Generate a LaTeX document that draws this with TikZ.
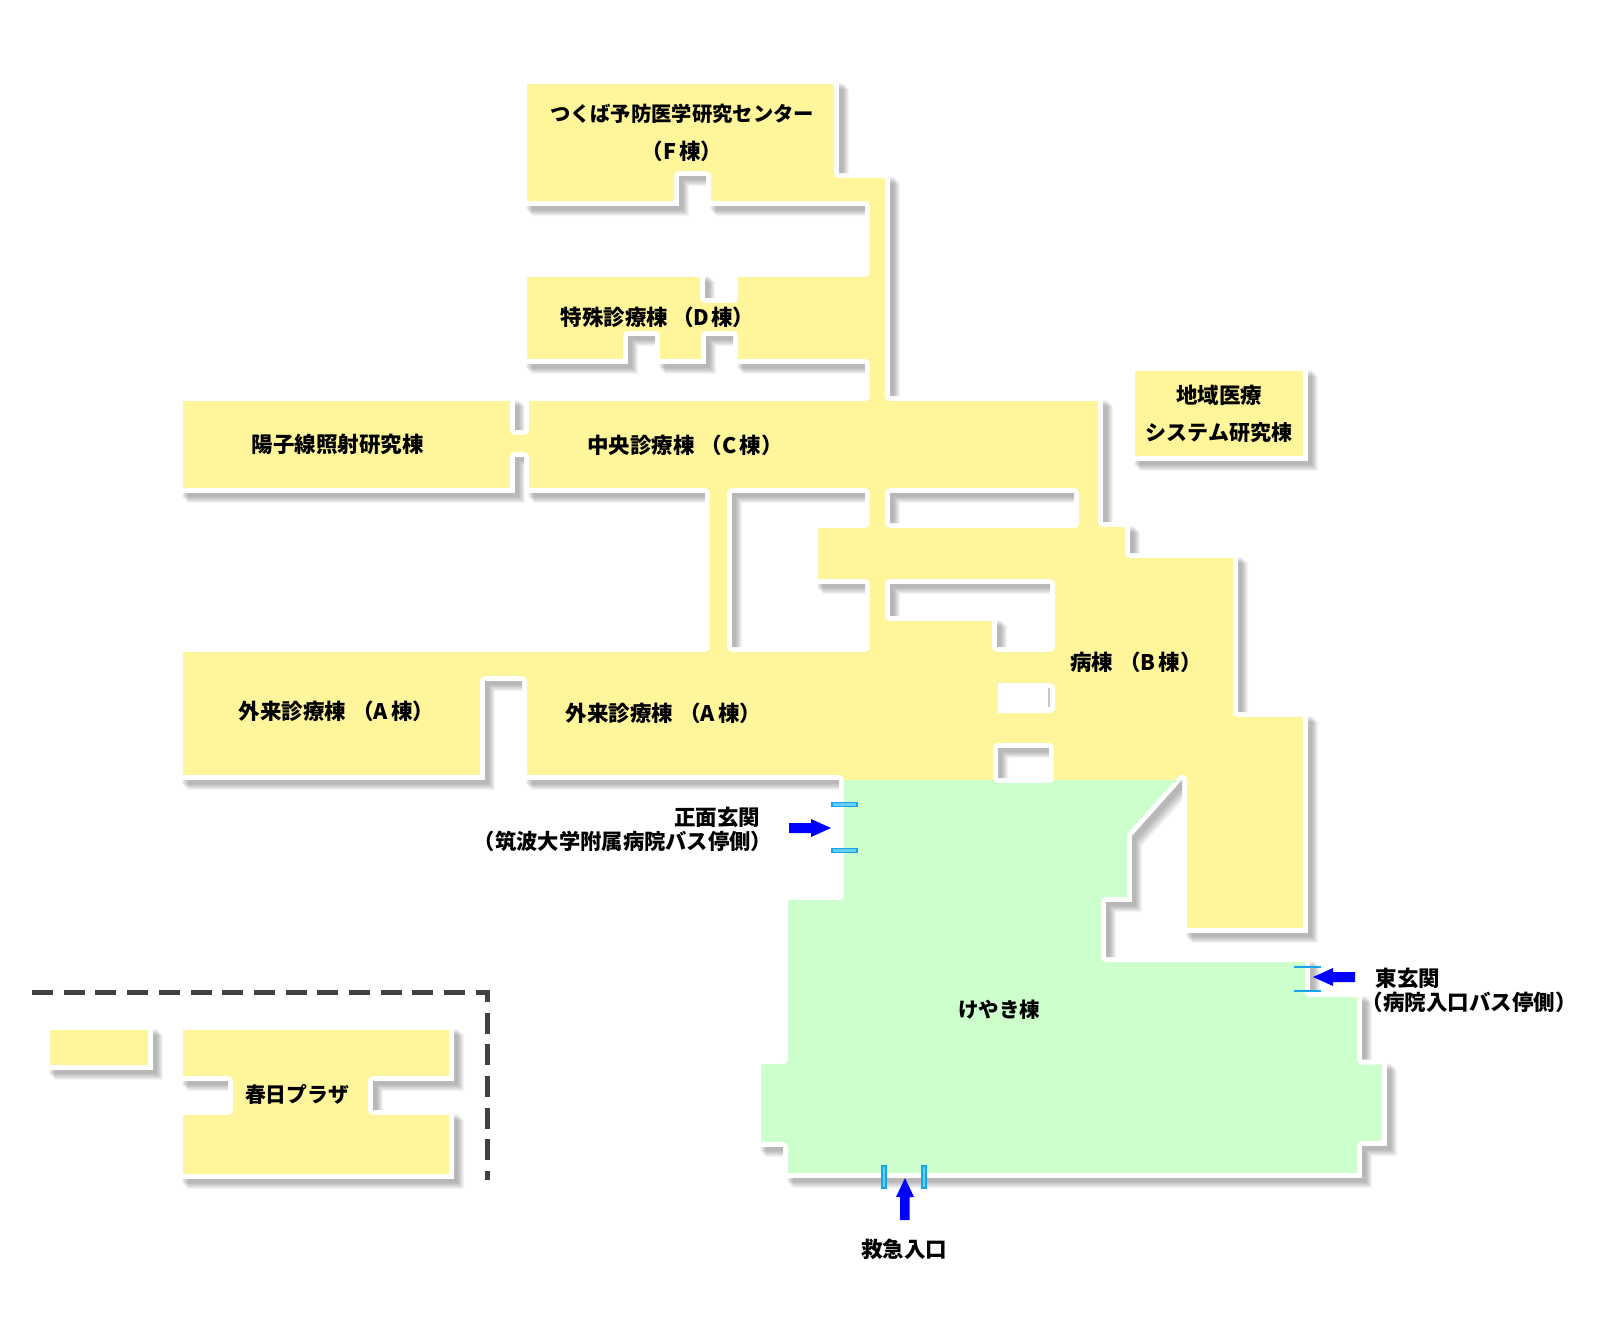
\documentclass[tikz,border=0pt]{standalone}
\usepackage{fontspec}
\setmainfont{Noto Sans CJK JP}
\definecolor{bldgY}{HTML}{FFF69B}
\definecolor{bldgG}{HTML}{CCFFCC}
\definecolor{doorC}{HTML}{14A5EA}
\definecolor{doorL}{HTML}{6CCBF2}
\definecolor{dashC}{HTML}{404040}
\def\mainOpen{(839,780) -- (522,780) -- (522,681) -- (485,681) -- (485,780)
 -- (178,780) -- (178,647) -- (705,647) -- (705,493) -- (524,493)
 -- (524,457) -- (515,457) -- (515,493) -- (178,493) -- (178,396)
 -- (515,396) -- (515,430) -- (524,430) -- (524,396) -- (865,396)
 -- (865,364) -- (733,364) -- (733,336) -- (706,336) -- (706,364)
 -- (655,364) -- (655,336) -- (628,336) -- (628,364) -- (522,364)
 -- (522,272) -- (705,272) -- (705,298) -- (733,298) -- (733,272)
 -- (865,272) -- (865,206) -- (706,206) -- (706,176) -- (679,176)
 -- (679,206) -- (522,206) -- (522,79) -- (839,79) -- (839,173)
 -- (890,173) -- (890,396) -- (1103,396) -- (1103,522) -- (1130,522)
 -- (1130,553) -- (1238,553) -- (1238,712) -- (1308,712) -- (1308,933)
 -- (1182,933) -- (1182,780)}
\def\mainHoles{(732,493) -- (865,493) -- (865,523) -- (813,523) -- (813,584)
 -- (865,584) -- (865,647) -- (732,647) -- cycle
 (890,493) -- (1074,493) -- (1074,523) -- (890,523) -- cycle
 (890,584) -- (1050,584) -- (1050,647) -- (997,647) -- (997,616) -- (890,616) -- cycle
 (998,748) -- (1049,748) -- (1049,778) -- (998,778) -- cycle}
\def\greenOpen{(1182,780) -- (1132,836) -- (1132,902) -- (1106,902) -- (1106,957)
 -- (1310,957) -- (1310,992) -- (1362,992) -- (1362,1059.5) -- (1387,1059.5)
 -- (1387,1146) -- (1362,1146) -- (1362,1178) -- (783,1178) -- (783,1147)
 -- (756,1147) -- (756,1059) -- (783,1059) -- (783,895) -- (839,895) -- (839,780)}
\def\plazaPath{(178,1025) -- (454,1025) -- (454,1081) -- (373,1081) -- (373,1110)
 -- (454,1110) -- (454,1179) -- (178,1179) -- (178,1110) -- (228,1110)
 -- (228,1081) -- (178,1081) -- cycle}
\def\legendPath{(45,1025) -- (153,1025) -- (153,1070) -- (45,1070) -- cycle}
\def\regionalPath{(1130,366) -- (1308,366) -- (1308,461) -- (1130,461) -- cycle}
\def\pageRect{(0,0) rectangle (1600,1338)}
\def\pageRev{(0,0) -- (0,1338) -- (1600,1338) -- (1600,0) -- cycle}
\tikzset{
  halo/.style={draw=white,line width=10pt,line join=round,line cap=round},
  shade layer/.style={fill=black,opacity=.045,even odd rule},
  label/.style={font=\fontsize{21.5}{25}\selectfont\bfseries,inner sep=0pt,text=black},
  door/.style={draw=doorC,fill=doorL,line width=1.6pt},
  doorthin/.style={draw=doorC,line width=2.4pt},
  entry/.style={fill=blue},
}
\begin{document}
\begin{tikzpicture}[x=1pt,y=-1pt]
\useasboundingbox \pageRect;
\fill[white] \pageRect;
% fills
\fill[bldgY,even odd rule] \mainOpen -- cycle \mainHoles;
\fill[bldgY] \plazaPath;
\fill[bldgY] \legendPath;
\fill[bldgY] \regionalPath;
\fill[bldgG] \greenOpen -- cycle;
% white halos: the stroke eats 5 px of each fill, giving rounded inner corners
\draw[halo] \mainOpen;
\draw[halo] \mainHoles;
\draw[halo] \greenOpen;
\draw[halo] \plazaPath;
\draw[halo] \legendPath;
\draw[halo] \regionalPath;
% shadows, only outside the outlines
\begin{scope}
\clip \pageRev \mainOpen -- cycle \mainHoles;
\clip \pageRev \greenOpen -- cycle;
\clip \pageRev \plazaPath;
\clip \pageRev \legendPath;
\clip \pageRev \regionalPath;
\foreach \s in {4,5,6,7,8,9,10}{
  \fill[shade layer,shift={(\s,\s)}] \mainOpen -- cycle \mainHoles;
  \fill[shade layer,shift={(\s,\s)}] \greenOpen -- cycle;
  \fill[shade layer,shift={(\s,\s)}] \plazaPath;
  \fill[shade layer,shift={(\s,\s)}] \legendPath;
  \fill[shade layer,shift={(\s,\s)}] \regionalPath;
}
\end{scope}
% seam between the yellow and green blocks
\fill[bldgY] (845,776) rectangle (992,780);
\fill[bldgG] (845,780) rectangle (992,783);
\fill[bldgY] (1055,776) rectangle (1176,780);
\fill[bldgG] (1055,780) rectangle (1176,783);
% white patch in ward block
\fill[white,rounded corners=5pt] (985,683) -- (1055,683) -- (1055,713) -- (985,713) -- cycle;
\fill[bldgY] (980,679) rectangle (997.5,717);
\draw[draw=black!22,line width=1.4pt] (1049,688) -- (1049,707);
% legend dash
\draw[draw=dashC,line width=5pt,dash pattern=on 21pt off 10.7pt] (32,992) -- (487,992) -- (487,1180);
% doors
\draw[door] (832,802.5) rectangle (857,806.5);
\draw[door] (832,848.5) rectangle (857,852.5);
\draw[door] (882.2,1166) rectangle (885.8,1188);
\draw[door] (922.2,1166) rectangle (925.8,1188);
\draw[doorthin] (1294,967) -- (1321,967);
\draw[doorthin] (1294,991) -- (1321,991);
% arrows
\fill[entry] (789,823) -- (811,823) -- (811,819) -- (831,828) -- (811,837) -- (811,833) -- (789,833) -- cycle;
\fill[entry] (1355,972) -- (1333,972) -- (1333,968) -- (1313,977) -- (1333,986) -- (1333,982) -- (1355,982) -- cycle;
\fill[entry] (900,1220) -- (900,1197) -- (896,1197) -- (905,1178) -- (914,1197) -- (909.5,1197) -- (909.5,1220) -- cycle;
% labels
\node[label,font=\fontsize{20.3}{25}\selectfont\bfseries] (fa) at (682,114) {つくば予防医学研究センター};
\node[label] (fb) at (682,151) {（F\hspace{3pt}棟）};
\node[label] (d) at (657.5,317) {特殊診療棟\hspace{4pt}（D\hspace{2pt}棟）};
\node[label] (y) at (337.5,444) {陽子線照射研究棟};
\node[label] (c) at (685,445) {中央診療棟\hspace{6pt}（C\hspace{3pt}棟）};
\node[label] (al) at (336.5,711) {外来診療棟\hspace{6pt}（A\hspace{3pt}棟）};
\node[label] (ar) at (663.5,713) {外来診療棟\hspace{6pt}（A\hspace{3pt}棟）};
\node[label] (b) at (1136,662) {病棟\hspace{6pt}（B\hspace{3pt}棟）};
\node[label] (ra) at (1219,395) {地域医療};
\node[label,font=\fontsize{21}{25}\selectfont\bfseries] (rb) at (1219,433) {システム研究棟};
\node[label,font=\fontsize{20.5}{25}\selectfont\bfseries] (k) at (999,1010) {けやき棟};
\node[label,font=\fontsize{20.8}{25}\selectfont\bfseries] (p) at (297,1094) {春日プラザ};
\node[label] (q) at (904,1249) {救急入口};
\node[label] (m1) at (717,817) {正面玄関};
\node[label,font=\fontsize{21.3}{25}\selectfont\bfseries] (m2) at (623,841) {（筑波大学附属病院バス停側）};
\node[label] (e1) at (1408,978) {東玄関};
\node[label] (e2) at (1469,1002) {（病院入口バス停側）};
\end{tikzpicture}
\end{document}
